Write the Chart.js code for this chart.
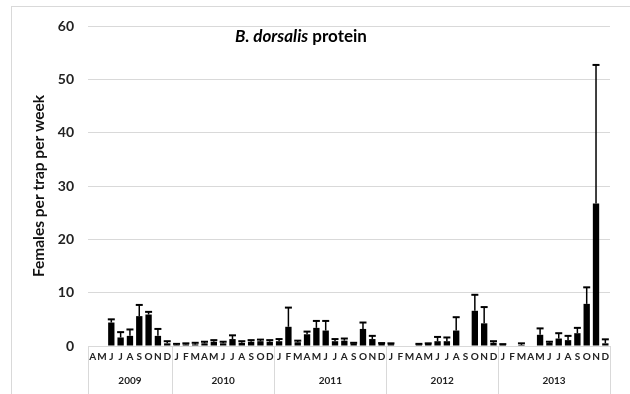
<!DOCTYPE html>
<html>
<head>
<meta charset="utf-8">
<script src="https://cdn.jsdelivr.net/npm/chart.js@4"></script>
<style>
  body { margin: 0; background: #fff; }
  #wrap { width: 630px; height: 394px; }
</style>
</head>
<body>
<div id="wrap"><canvas id="myChart"></canvas></div>
<script>
// month labels, one per bar
const months = [
  'A','M','J','J','A','S','O','N','D',
  'J','F','M','A','M','J','J','A','S','O','D',
  'J','F','M','A','M','J','J','A','S','O','N','D',
  'J','F','M','A','M','J','J','A','S','O','N','D',
  'J','F','M','A','M','J','J','A','S','O','N','D'
];
const years = ['2009', '2010', '2011', '2012', '2013'];
const yearCounts = [9, 11, 12, 12, 12];

// mean females per trap per week
const means = [
  0, 0, 4.4, 1.6, 1.9, 5.6, 5.9, 1.9, 0.5,
  0.2, 0.3, 0.3, 0.5, 0.8, 0.5, 1.3, 0.6, 0.8, 0.9, 0.8,
  0.9, 3.6, 0.7, 2.2, 3.4, 2.9, 0.9, 1.0, 0.5, 3.2, 1.3, 0.45,
  0.35, 0, 0, 0.3, 0.4, 0.9, 0.9, 2.9, 0, 6.6, 4.25, 0.6,
  0.2, 0, 0.2, 0, 2.1, 0.6, 1.4, 1.1, 2.4, 7.9, 26.7, 0.5
];
// upper error (standard error)
const errors = [
  0, 0, 0.6, 1.0, 1.2, 2.1, 0.5, 1.3, 0.4,
  0.2, 0.2, 0.3, 0.3, 0.3, 0.3, 0.7, 0.3, 0.3, 0.3, 0.3,
  0.4, 3.6, 0.3, 0.5, 1.3, 1.8, 0.4, 0.4, 0.1, 1.2, 0.6, 0.1,
  0.15, 0, 0, 0.1, 0.1, 0.8, 0.7, 2.5, 0, 3.0, 3.05, 0.3,
  0.15, 0, 0.3, 0, 1.2, 0.2, 1.0, 0.8, 1.0, 3.1, 26.0, 0.75
];
const yTicks = [0, 10, 20, 30, 40, 50, 60];

const FONT = 'Lato, "Open Sans", sans-serif';
const GRID = '#d9d9d9';

const extras = {
  id: 'extras',
  afterDatasetsDraw(chart) {
    const ctx = chart.ctx;
    const x = chart.scales.x, y = chart.scales.y;
    const meta = chart.getDatasetMeta(0);
    ctx.save();
    // error bars
    ctx.strokeStyle = '#000';
    for (let i = 0; i < means.length; i++) {
      if (!errors[i]) continue;
      const px = meta.data[i].x;
      const yb = y.getPixelForValue(means[i]);
      const yt = y.getPixelForValue(means[i] + errors[i]);
      ctx.lineWidth = 1.5;
      ctx.beginPath(); ctx.moveTo(px, yb); ctx.lineTo(px, yt); ctx.stroke();
      ctx.lineWidth = 2;
      ctx.beginPath(); ctx.moveTo(px - 3.5, yt); ctx.lineTo(px + 3.5, yt); ctx.stroke();
    }
    // year groups on the category axis
    const step = x.getPixelForValue(1) - x.getPixelForValue(0);
    const bottom = chart.chartArea.bottom;
    ctx.strokeStyle = GRID;
    ctx.lineWidth = 1;
    ctx.fillStyle = '#222';
    ctx.font = 'bold 10px ' + FONT;
    ctx.textAlign = 'center';
    ctx.textBaseline = 'middle';
    let start = 0;
    const edges = [];
    yearCounts.forEach((n, k) => {
      const left = x.getPixelForValue(start) - step / 2;
      const right = x.getPixelForValue(start + n - 1) + step / 2;
      if (k === 0) edges.push(left);
      edges.push(right);
      ctx.fillText(years[k], (left + right) / 2, 381);
      start += n;
    });
    edges.forEach(e => {
      const ex = Math.round(e) + 0.5;
      ctx.beginPath(); ctx.moveTo(ex, bottom); ctx.lineTo(ex, 394); ctx.stroke();
    });
    // outer frame
    ctx.strokeRect(11.5, 6.5, 700, 500);
    // title with italic species name
    const a = 'B. dorsalis', b = ' protein';
    ctx.fillStyle = '#000';
    ctx.textAlign = 'left';
    ctx.font = 'italic bold 17px ' + FONT;
    const wa = ctx.measureText(a).width;
    ctx.font = 'bold 17px ' + FONT;
    const wb = ctx.measureText(b).width;
    const tx = 301 - (wa + wb) / 2;
    ctx.font = 'italic bold 17px ' + FONT;
    ctx.fillText(a, tx, 37);
    ctx.font = 'bold 17px ' + FONT;
    ctx.fillText(b, tx + wa, 37);
    ctx.restore();
  }
};

new Chart(document.getElementById('myChart'), {
  type: 'bar',
  data: {
    labels: months,
    datasets: [{
      data: means,
      backgroundColor: '#000',
      borderWidth: 0,
      barPercentage: 0.68,
      categoryPercentage: 1
    }]
  },
  options: {
    responsive: true,
    maintainAspectRatio: false,
    animation: false,
    layout: { padding: { top: 26, right: 20, left: 0, bottom: 0 } },
    plugins: {
      legend: { display: false },
      tooltip: { enabled: false }
    },
    scales: {
      x: {
        grid: { display: false, drawTicks: false },
        border: { color: GRID },
        ticks: {
          autoSkip: false, maxRotation: 0, minRotation: 0,
          color: '#222', padding: 5,
          font: { family: FONT, size: 10, weight: 'bold' }
        },
        afterFit(scale) { scale.height = 48; }
      },
      y: {
        min: 0, max: 60,
        afterBuildTicks(scale) { scale.ticks = yTicks.map(v => ({ value: v })); },
        grid: { color: GRID, drawTicks: false },
        border: { display: false },
        ticks: {
          color: '#222', padding: 14,
          font: { family: FONT, size: 14, weight: 'bold' }
        },
        title: {
          display: true, text: 'Females per trap per week', color: '#111',
          font: { family: FONT, size: 15.5, weight: 'bold' },
          padding: { top: 30, bottom: 0 }
        },
        afterFit(scale) { scale.width = 88; }
      }
    }
  },
  plugins: [extras]
});
</script>
</body>
</html>
